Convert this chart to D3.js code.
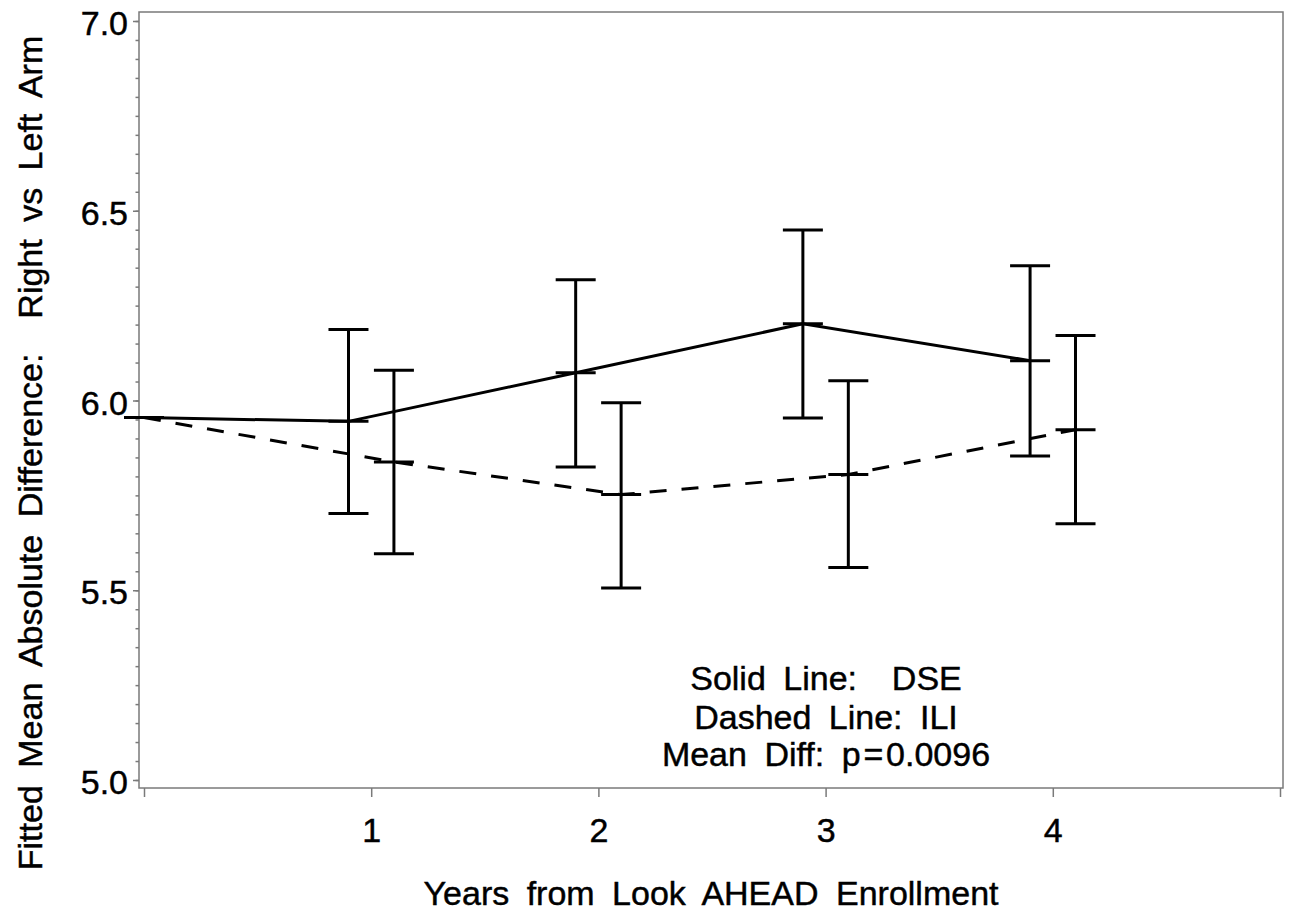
<!DOCTYPE html>
<html>
<head>
<meta charset="utf-8">
<script src="https://cdn.jsdelivr.net/npm/d3@7"></script>
<style>
  body { margin: 0; background: #fff; }
  svg { display: block; font-family: "Liberation Sans", Arial, sans-serif; }
  svg text { white-space: pre; fill: #000; stroke: #000; stroke-width: 0.45px; }
  .frame { fill: none; stroke: #7a7a7a; stroke-width: 1.5; }
  .tick line { stroke: #7a7a7a; stroke-width: 1.5; }
  .tick text { font-size: 34px; }
  .domain { display: none; }
  .wave { fill: none; stroke: #000; stroke-width: 3; }
  .bar { stroke: #000; stroke-width: 3; }
</style>
</head>
<body>
<svg width="1291" height="911"></svg>
<script>
// years since enrollment, year 0 is the shared baseline
var years = [0, 1, 2, 3, 4]

// DSE (solid line)
var dseMean  = [5.955, 5.945, 6.073, 6.202, 6.105]
var dseLower = [5.955, 5.702, 5.825, 5.954, 5.854]
var dseUpper = [5.955, 6.187, 6.318, 6.449, 6.355]

// ILI (dashed line)
var iliMean  = [5.955, 5.838, 5.752, 5.805, 5.923]
var iliLower = [5.955, 5.596, 5.506, 5.560, 5.675]
var iliUpper = [5.955, 6.080, 5.994, 6.052, 6.171]

var xTicks = [0, 1, 2, 3, 4, 5]
var yTicks = [5.0, 5.5, 6.0, 6.5, 7.0]
var yMinor = d3.range(5.0, 7.0001, 0.05)

var notes = ["Solid Line:  DSE", "Dashed Line: ILI", "Mean Diff: p\u200a=\u200a0.0096"]

var svg = d3.select("svg"),
    frame = { left: 139, right: 1283, top: 12, bottom: 788 }

var x = d3.scaleLinear()
          .domain([0, 5])
          .range([144, 1280])

var y = d3.scaleLinear()
          .domain([5, 7])
          .range([780, 21])

svg.append("rect")
   .attr("width", 1291).attr("height", 911).attr("fill", "#fff")

// plot frame
svg.append("rect")
   .attr("class", "frame")
   .attr("x", frame.left)
   .attr("y", frame.top)
   .attr("width", frame.right - frame.left)
   .attr("height", frame.bottom - frame.top)

// x axis
svg.append("g")
   .attr("transform", "translate(0," + frame.bottom + ")")
   .call(d3.axisBottom(x)
           .tickValues(xTicks)
           .tickSize(9)
           .tickPadding(21)
           .tickFormat(function(d) { return (d >= 1 && d <= 4) ? d : "" }))

// y axis minor ticks
svg.append("g")
   .attr("transform", "translate(" + frame.left + ",0)")
   .call(d3.axisLeft(y)
           .tickValues(yMinor)
           .tickSize(3.5)
           .tickFormat(""))

// y axis major ticks
var yAxisG = svg.append("g")
   .attr("transform", "translate(" + frame.left + ",0)")
   .call(d3.axisLeft(y)
           .tickValues(yTicks)
           .tickSize(6)
           .tickPadding(5)
           .tickFormat(d3.format(".1f")))
yAxisG.selectAll("text").attr("dy", "0.4em")

// axis titles
svg.append("text")
   .attr("x", 711)
   .attr("y", 905)
   .attr("text-anchor", "middle")
   .attr("font-size", 34)
   .attr("word-spacing", 8)
   .text("Years from Look AHEAD Enrollment")

svg.append("text")
   .attr("transform", "translate(42,453) rotate(-90)")
   .attr("text-anchor", "middle")
   .attr("font-size", 34)
   .attr("word-spacing", 8)
   .text("Fitted Mean Absolute Difference:  Right vs Left Arm")

function renderSeries(mean, lower, upper, offset, dashed) {
	var pts = years.map(function(yr, i) {
		return {
			xv: yr === 0 ? yr : yr + offset,
			m: mean[i], lo: lower[i], hi: upper[i]
		}
	})

	var line = d3.line()
	             .x(function(d) { return x(d.xv) })
	             .y(function(d) { return y(d.m) })

	svg.append("path")
	   .datum(pts)
	   .attr("class", "wave")
	   .attr("stroke-dasharray", dashed ? "17,15" : null)
	   .attr("d", line)

	var cap = 20
	var g = svg.append("g")
	g.selectAll("line.v")
	 .data(pts)
	 .enter()
	 .append("line")
	 .attr("class", "bar")
	 .attr("x1", function(d) { return x(d.xv) })
	 .attr("x2", function(d) { return x(d.xv) })
	 .attr("y1", function(d) { return y(d.hi) })
	 .attr("y2", function(d) { return y(d.lo) })

	;["lo", "m", "hi"].forEach(function(k) {
		g.selectAll("line.c" + k)
		 .data(pts)
		 .enter()
		 .append("line")
		 .attr("class", "bar")
		 .attr("x1", function(d) { return x(d.xv) - cap })
		 .attr("x2", function(d) { return x(d.xv) + cap })
		 .attr("y1", function(d) { return y(d[k]) })
		 .attr("y2", function(d) { return y(d[k]) })
	})
}

renderSeries(dseMean, dseLower, dseUpper, -0.1, false)
renderSeries(iliMean, iliLower, iliUpper, 0.1, true)

// annotation
svg.append("g")
   .selectAll("text")
   .data(notes)
   .enter()
   .append("text")
   .attr("x", 826)
   .attr("y", function(d, i) { return [690, 729, 766][i] })
   .attr("text-anchor", "middle")
   .attr("font-size", 34)
   .attr("word-spacing", 8)
   .text(function(d) { return d })
</script>
</body>
</html>
